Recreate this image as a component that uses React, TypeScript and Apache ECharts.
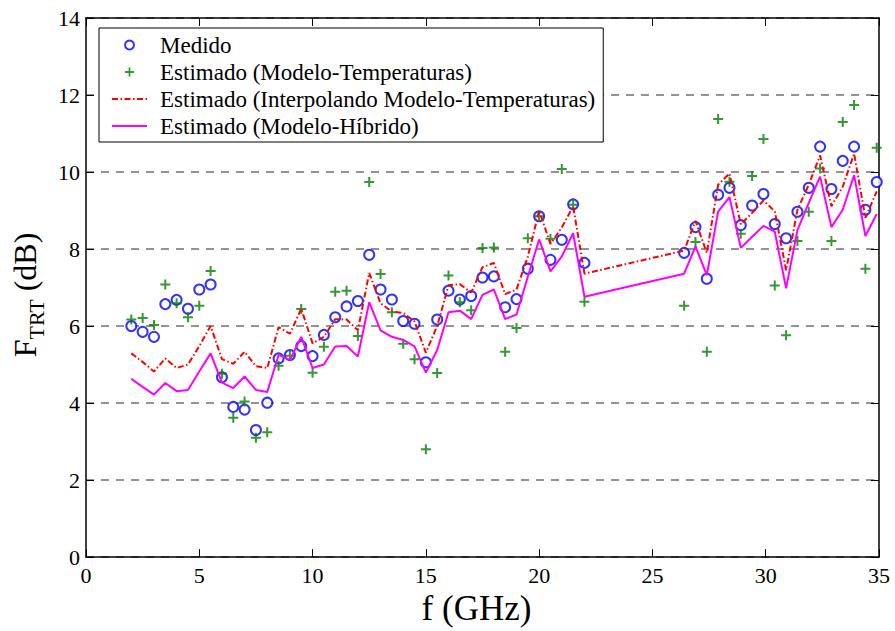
import React, { useEffect, useRef } from "react";
import * as echarts from "echarts";

const freqs = [
  2, 2.5, 3, 3.5, 4, 4.5, 5, 5.5, 6, 6.5, 7, 7.5, 8, 8.5, 9, 9.5, 10, 10.5, 11, 11.5,
  12, 12.5, 13, 13.5, 14, 14.5, 15, 15.5, 16, 16.5, 17, 17.5, 18, 18.5, 19, 19.5, 20,
  20.5, 21, 21.5, 22, 26.4, 26.9, 27.4, 27.9, 28.4, 28.9, 29.4, 29.9, 30.4, 30.9, 31.4,
  31.9, 32.4, 32.9, 33.4, 33.9, 34.4, 34.9,
];

const medido = [
  6.0, 5.85, 5.72, 6.57, 6.68, 6.45, 6.95, 7.08, 4.67, 3.9, 3.83, 3.3, 4.01, 5.16, 5.25,
  5.48, 5.22, 5.77, 6.23, 6.51, 6.65, 7.85, 6.95, 6.69, 6.13, 6.06, 5.06, 6.17, 6.92, 6.69,
  6.78, 7.26, 7.29, 6.49, 6.7, 7.49, 8.85, 7.72, 8.24, 9.16, 7.64, 7.9, 8.57, 7.23, 9.41,
  9.59, 8.62, 9.13, 9.43, 8.65, 8.28, 8.97, 9.59, 10.66, 9.56, 10.29, 10.66, 9.02, 9.74,
];

const estTemp = [
  6.17, 6.21, 6.03, 7.08, 6.59, 6.23, 6.53, 7.43, 4.76, 3.62, 4.04, 3.1, 3.24, 4.97, 5.23,
  6.44, 4.79, 5.46, 6.89, 6.92, 5.74, 9.74, 7.35, 6.36, 5.54, 5.14, 2.8, 4.78, 7.31, 6.62,
  6.41, 8.03, 8.04, 5.33, 5.95, 8.28, 8.85, 8.27, 10.08, 9.15, 6.63, 6.53, 8.18, 5.33,
  11.38, 9.75, 8.4, 9.9, 10.86, 7.05, 5.76, 8.21, 8.97, 10.09, 8.21, 11.3, 11.74, 7.49,
  10.63,
];

const interpolado = [
  5.29, 5.07, 4.82, 5.16, 4.91, 5.0, 5.48, 6.0, 5.14, 5.02, 5.33, 4.96, 4.91, 5.97, 5.8,
  6.45, 5.55, 5.72, 6.18, 6.17, 5.89, 7.38, 6.59, 6.38, 6.34, 6.12, 5.31, 6.0, 7.06, 7.09,
  6.87, 7.53, 7.64, 6.83, 6.95, 7.8, 9.0, 8.13, 8.56, 9.11, 7.36, 7.96, 8.73, 7.9, 9.67,
  9.96, 8.64, 8.94, 9.26, 8.98, 7.45, 9.02, 9.67, 10.43, 9.11, 9.62, 10.48, 8.81, 9.5,
];

const hibrido = [
  4.63, 4.42, 4.22, 4.52, 4.31, 4.34, 4.82, 5.29, 4.53, 4.39, 4.69, 4.34, 4.29, 5.25, 5.12,
  5.72, 4.91, 5.0, 5.47, 5.48, 5.21, 6.62, 5.89, 5.72, 5.64, 5.47, 4.79, 5.38, 6.36, 6.4,
  6.18, 6.81, 6.95, 6.18, 6.3, 7.28, 8.25, 7.42, 7.81, 8.41, 6.76, 7.36, 8.07, 7.32, 8.97,
  9.35, 8.03, 8.32, 8.6, 8.45, 6.98, 8.49, 9.2, 9.88, 8.57, 9.02, 9.92, 8.34, 8.91,
];

const seriesNames = [
  "Medido",
  "Estimado (Modelo-Temperaturas)",
  "Estimado (Interpolando Modelo-Temperaturas)",
  "Estimado (Modelo-Híbrido)",
];

const xTicks = { min: 0, max: 35, interval: 5 };
const yTicks = { min: 0, max: 14, interval: 2 };

const FONT = "Liberation Serif";
const PLUS = "path://M4,0H6V4H10V6H6V10H4V6H0V4H4Z";

const pair = (ys: number[]) => freqs.map((f, i) => [f, ys[i]]);

export default function App() {
  const ref = useRef<HTMLDivElement>(null);
  useEffect(() => {
    if (!ref.current) return;
    const chart = echarts.init(ref.current, null, { renderer: "svg" });
    const axisLine = { show: true, onZero: false, lineStyle: { color: "#000", width: 1.5 } };
    const tick = { show: true, inside: true, length: 8, lineStyle: { color: "#000", width: 1 } };
    chart.setOption({
      animation: false,
      backgroundColor: "#fff",
      textStyle: { fontFamily: FONT },
      grid: { left: 86, top: 18, width: 793, height: 546 },
      graphic: [
        {
          type: "text",
          x: 28,
          y: 295,
          rotation: Math.PI / 2,
          style: {
            text: "{a|F}{b|TRT}{c| (dB)}",
            align: "center",
            verticalAlign: "middle",
            fill: "#000",
            rich: {
              a: { fontFamily: FONT, fontSize: 32, fill: "#000", color: "#000", verticalAlign: "bottom", padding: [0, 0, 7, 0] },
              b: { fontFamily: FONT, fontSize: 22, fill: "#000", color: "#000", verticalAlign: "bottom" },
              c: { fontFamily: FONT, fontSize: 32, fill: "#000", color: "#000", verticalAlign: "bottom", padding: [0, 0, 7, 0] },
            },
          },
        },
      ],
      legend: {
        orient: "vertical",
        left: 99,
        top: 28,
        backgroundColor: "#fff",
        borderColor: "#000",
        borderWidth: 1,
        borderRadius: 0,
        padding: [5, 8, 4, 12],
        itemWidth: 35,
        itemHeight: 9,
        itemGap: 3,
        textStyle: { fontFamily: FONT, fontSize: 23, color: "#000", lineHeight: 24, padding: [0, 0, 0, 8] },
        data: [
          { name: seriesNames[0] },
          { name: seriesNames[1] },
          { name: seriesNames[2], itemStyle: { opacity: 0 } },
          { name: seriesNames[3], itemStyle: { opacity: 0 } },
        ],
      },
      xAxis: [
        {
          type: "value",
          ...xTicks,
          position: "bottom",
          axisLine,
          axisTick: tick,
          splitLine: { show: false },
          axisLabel: { fontFamily: FONT, fontSize: 22, color: "#000", margin: 7 },
          name: "f (GHz)",
          nameLocation: "middle",
          nameGap: 26,
          nameTextStyle: { fontFamily: FONT, fontSize: 35, color: "#000", padding: [0, 12, 0, 0] },
        },
        {
          type: "value",
          ...xTicks,
          position: "top",
          axisLine,
          axisTick: tick,
          splitLine: { show: false },
          axisLabel: { show: false },
        },
      ],
      yAxis: [
        {
          type: "value",
          ...yTicks,
          position: "left",
          axisLine,
          axisTick: tick,
          axisLabel: { fontFamily: FONT, fontSize: 22, color: "#000", margin: 6 },
          splitLine: { show: true, lineStyle: { color: "#707070", width: 1.5, type: [8, 7] } },
        },
        {
          type: "value",
          ...yTicks,
          position: "right",
          axisLine,
          axisTick: tick,
          axisLabel: { show: false },
          splitLine: { show: false },
        },
      ],
      series: [
        {
          name: seriesNames[0],
          type: "scatter",
          data: pair(medido),
          symbol: "emptyCircle",
          symbolSize: 10,
          itemStyle: { color: "#0000ff", borderColor: "#0000ff", borderWidth: 2 },
        },
        {
          name: seriesNames[1],
          type: "scatter",
          data: pair(estTemp),
          symbol: PLUS,
          symbolSize: 10,
          itemStyle: { color: "#008000" },
        },
        {
          name: seriesNames[2],
          type: "line",
          data: pair(interpolado),
          symbol: "none",
          lineStyle: { color: "#ff0000", width: 2, type: [6, 2.5, 1.5, 2.5] },
          itemStyle: { color: "#ff0000" },
        },
        {
          name: seriesNames[3],
          type: "line",
          data: pair(hibrido),
          symbol: "none",
          lineStyle: { color: "#ff00ff", width: 2 },
          itemStyle: { color: "#ff00ff" },
        },
      ],
    });
    return () => chart.dispose();
  }, []);
  return (
    <div
      ref={ref}
      style={{ position: "fixed", left: 0, top: 0, width: 895, height: 631, background: "#fff" }}
    />
  );
}
